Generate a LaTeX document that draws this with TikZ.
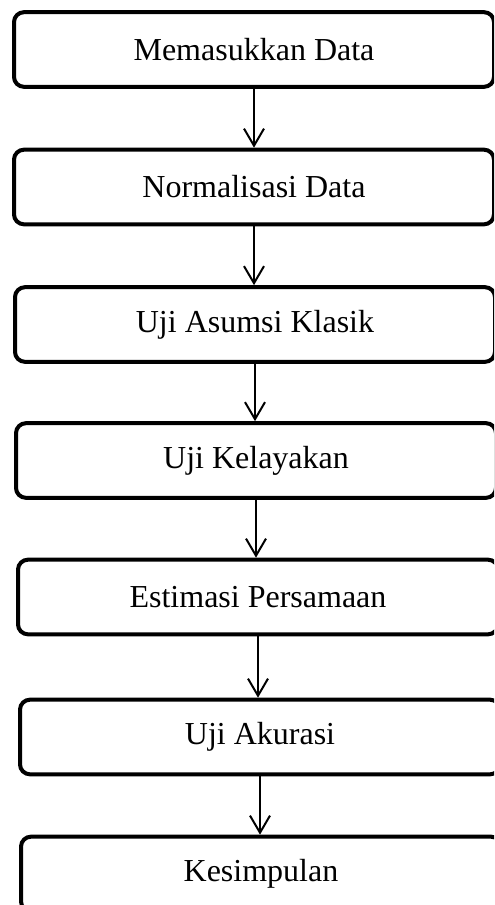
\documentclass[tikz,border=0pt]{standalone}
\usepackage{fontspec}
\setmainfont{Liberation Serif}
\usetikzlibrary{arrows.meta}

\begin{document}
\begin{tikzpicture}[x=0.375pt, y=-0.375pt,
  flowbox/.style={draw, line width=1.5pt, rounded corners=3.75pt, minimum width=180pt, minimum height=28pt, font=\fontsize{12}{14}\selectfont},
  flowarrow/.style={line width=0.75pt, -{Straight Barb[length=6.4pt, width=7.5pt]}}]
\useasboundingbox (0,0) rectangle (494,905);
\clip (0,0) rectangle (494,905);

% steps
\node[flowbox] (input) at (254, 49.5) {Memasukkan Data};
\node[flowbox] (norm) at (254, 187) {Normalisasi Data};
\node[flowbox] (asumsi) at (255, 324.5) {Uji Asumsi Klasik};
\node[flowbox] (layak) at (256, 460.5) {Uji Kelayakan};
\node[flowbox] (estimasi) at (258, 597) {Estimasi Persamaan};
\node[flowbox] (akurasi) at (260, 737) {Uji Akurasi};
\node[flowbox] (simpul) at (261, 874) {Kesimpulan};

% arrows
\draw[flowarrow] (input.south) -- (input.south |- norm.north);
\draw[flowarrow] (norm.south) -- (norm.south |- asumsi.north);
\draw[flowarrow] (asumsi.south) -- (asumsi.south |- layak.north);
\draw[flowarrow] (layak.south) -- (layak.south |- estimasi.north);
\draw[flowarrow] (estimasi.south) -- (estimasi.south |- akurasi.north);
\draw[flowarrow] (akurasi.south) -- (akurasi.south |- simpul.north);

\end{tikzpicture}
\end{document}
